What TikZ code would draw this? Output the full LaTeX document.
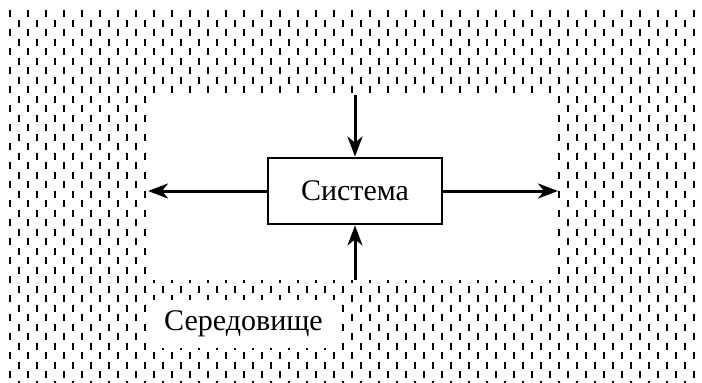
\documentclass[tikz,border=0pt]{standalone}
\usepackage{fontspec}
\setmainfont{Liberation Serif}
\usetikzlibrary{arrows.meta}
\tikzset{
	hatch/.style={line width=2.6pt, dash pattern=on 7pt off 12pt},
	sysbox/.style={draw, line width=2.8pt, fill=white, minimum width=174pt, minimum height=66pt, inner sep=0pt},
	flow/.style={-{Stealth[length=20pt,width=15pt,inset=6pt]}, line width=3pt}
}
\begin{document}
\begin{tikzpicture}[x=1pt,y=-1pt,font=\fontsize{30}{36}\selectfont]
		\useasboundingbox (0,0) rectangle (702,383);
		% environment hatching
		\foreach \i in {0,...,77} {
			\pgfmathsetmacro\ph{mod(\i,2)*9.5}
			\draw [hatch, dash phase=\ph pt] (10+9*\i,10)--(10+9*\i,383);
		}
		\fill [white] (148,95) rectangle (558,280);

		\node (sys) [sysbox] at (355,191) {Система};
		\node (env) [fill=white, minimum width=187pt, minimum height=48pt, inner sep=0pt] at (243.5,324) {Середовище};

		\coordinate (in1) at (355,95);
		\coordinate (in2) at (355,280);
		\coordinate (out1) at (148,191);
		\coordinate (out2) at (558,191);
		\draw [flow] (in1)--(sys.north);
		\draw [flow] (in2)--(sys.south);
		\draw [flow] (sys.west)--(out1);
		\draw [flow] (sys.east)--(out2);
	\end{tikzpicture}
\end{document}
